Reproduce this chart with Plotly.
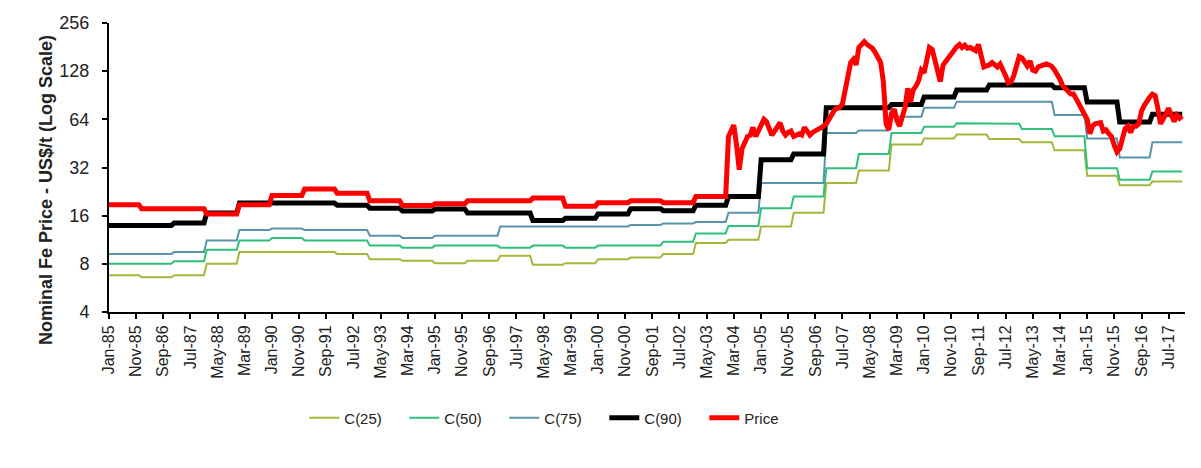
import math
import pandas as pd
import plotly.graph_objects as go

# ---------------- data ----------------
years = list(range(1985, 2018))

c25 = [6.8, 6.6, 6.8, 8.0, 9.5, 9.5, 9.5, 9.2, 8.55, 8.35, 8.07, 8.35, 9.0, 7.9, 8.07,
       8.55, 8.75, 9.2, 10.8, 11.3, 13.7, 16.7, 25.6, 30.6, 44.5, 48.5, 51.5, 48.2,
       46.0, 41.0, 28.4, 24.8, 26.2]
c50 = [8.0, 8.0, 8.3, 9.8, 11.2, 11.6, 11.2, 11.2, 10.4, 10.1, 10.4, 10.4, 10.1, 10.4,
       10.1, 10.4, 10.4, 11.0, 12.4, 13.8, 17.8, 21.1, 31.7, 38.8, 52.6, 57.5, 60.5,
       60.0, 55.6, 50.1, 31.7, 26.8, 30.2]
c75 = [9.23, 9.23, 9.5, 11.2, 13.0, 13.3, 13.0, 13.0, 12.0, 11.6, 12.0, 12.0, 13.7,
       13.7, 13.7, 13.7, 14.0, 14.3, 14.6, 16.7, 25.6, 25.6, 52.6, 54.5, 66.5, 75.5,
       82.5, 82.5, 82.5, 68.0, 48.5, 37.0, 46.0]
c90 = [13.9, 13.9, 14.4, 16.6, 19.2, 19.2, 19.2, 18.6, 17.8, 17.1, 17.6, 16.6, 16.6,
       14.9, 15.4, 16.4, 17.7, 17.2, 18.6, 21.1, 35.8, 38.8, 75.5, 75.5, 79.2, 88.4,
       97.5, 105.0, 105.0, 101.0, 82.0, 61.6, 68.8]

# annual (contract) price 1985-2003
price_years = list(range(1985, 2004))
price_annual = [18.7, 17.7, 17.7, 16.4, 18.7, 21.4, 23.5, 22.1, 19.8, 18.5, 19.0, 19.8,
                19.8, 20.6, 18.3, 19.3, 19.8, 19.3, 21.1]

# monthly price Jan-2004 .. Dec-2017
price_2004 = [50, 55, 59, 44, 31, 42, 46, 50, 51, 57, 50, 54]
price_2005 = [58, 64, 62, 55, 51, 54, 58, 61, 54, 51, 53, 54]
price_2006 = [50, 51, 52, 51, 57, 54, 51, 53, 54, 55, 56, 58]
price_2007 = [60, 65, 70, 73, 75, 76, 80, 100, 125, 145, 152, 140]
price_2008 = [180, 188, 196, 188, 182, 178, 168, 158, 145, 110, 60, 55]
price_2009 = [70, 74, 63, 58, 65, 76, 100, 82, 98, 103, 112, 130]
price_2010 = [125, 150, 180, 175, 150, 128, 110, 140, 148, 155, 165, 175]
price_2011 = [182, 188, 180, 186, 178, 180, 176, 172, 188, 165, 136, 138]
price_2012 = [140, 145, 140, 136, 142, 132, 120, 108, 110, 120, 136, 158]
price_2013 = [155, 145, 138, 148, 130, 128, 136, 138, 140, 142, 140, 137]
price_2014 = [130, 122, 114, 104, 100, 96, 92, 92, 84, 80, 74, 69]
price_2015 = [64, 52, 58, 60, 60, 61, 54, 55, 52, 50, 44, 40]
price_2016 = [42, 50, 56, 58, 53, 58, 58, 60, 72, 78, 84, 88]
price_2017 = [92, 90, 76, 60, 64, 70, 75, 68, 62, 68, 65, 67]

tick_labels = ["Jan-85", "Nov-85", "Sep-86", "Jul-87", "May-88", "Mar-89", "Jan-90",
               "Nov-90", "Sep-91", "Jul-92", "May-93", "Mar-94", "Jan-95", "Nov-95",
               "Sep-96", "Jul-97", "May-98", "Mar-99", "Jan-00", "Nov-00", "Sep-01",
               "Jul-02", "May-03", "Mar-04", "Jan-05", "Nov-05", "Sep-06", "Jul-07",
               "May-08", "Mar-09", "Jan-10", "Nov-10", "Sep-11", "Jul-12", "May-13",
               "Mar-14", "Jan-15", "Nov-15", "Sep-16", "Jul-17"]
y_ticks = [4, 8, 16, 32, 64, 128, 256]

# ---------------- build monthly series ----------------
months = pd.date_range(f"{years[0]}-01-01", f"{years[-1]}-12-01", freq="MS")


def monthly(annual):
    return [v for v in annual for _ in range(12)]


price_monthly = (price_2004 + price_2005 + price_2006 + price_2007 + price_2008 +
                 price_2009 + price_2010 + price_2011 + price_2012 + price_2013 +
                 price_2014 + price_2015 + price_2016 + price_2017)
price = monthly(price_annual) + price_monthly

tick_vals = pd.to_datetime(tick_labels, format="%b-%y")

FONT = "Liberation Sans, Arial, sans-serif"
TXT = "#222222"

series = [
    ("C(25)", c25, "#A3B73C", 2),
    ("C(50)", c50, "#2FC07A", 2),
    ("C(75)", c75, "#5A94AA", 2),
    ("C(90)", c90, "#000000", 5),
]

fig = go.Figure()
for name, vals, color, width in series:
    fig.add_trace(go.Scatter(x=months, y=monthly(vals), mode="lines", name=name,
                             line=dict(color=color, width=width)))
fig.add_trace(go.Scatter(x=months, y=price, mode="lines", name="Price",
                         line=dict(color="#FF0000", width=5)))

# page body has an 8px margin, so the figure is drawn 8px in from the window edge
W, H = 1193, 460
ML, MT, MR, MB = 101, 15, 16, 156
plot_h = H - MT - MB

fig.update_layout(
    width=W, height=H,
    margin=dict(l=ML, r=MR, t=MT, b=MB, autoexpand=False),
    paper_bgcolor="white", plot_bgcolor="white",
    font=dict(family=FONT, color=TXT),
    showlegend=True,
    legend=dict(orientation="h", x=0.1815, xanchor="left", y=-0.367, yanchor="middle",
                font=dict(size=15, family=FONT, color=TXT),
                entrywidth=55, entrywidthmode="pixels",
                bgcolor="rgba(0,0,0,0)"),
    annotations=[dict(
        text="<b>Nominal Fe Price - US$/t (Log Scale)</b>",
        textangle=-90, xref="paper", yref="paper",
        x=-(ML - 38) / (W - ML - MR), xanchor="center",
        y=(plot_h + MT - 182) / plot_h, yanchor="middle",
        showarrow=False, font=dict(size=18, family=FONT, color=TXT),
    )],
)

fig.update_xaxes(
    type="date", automargin=False,
    range=[months[0], pd.Timestamp(f"{years[-1] + 1}-01-01")],
    tickvals=tick_vals, ticktext=tick_labels, tickangle=-90,
    tickfont=dict(size=16, family=FONT, color=TXT),
    ticks="outside", ticklen=5, tickwidth=1.5, tickcolor="black",
    showline=True, linecolor="black", linewidth=2,
    showgrid=False, zeroline=False,
)
fig.update_yaxes(
    type="log", automargin=False,
    range=[math.log10(y_ticks[0]), math.log10(y_ticks[-1])],
    tickvals=y_ticks, ticktext=[str(v) for v in y_ticks],
    tickfont=dict(size=18, family=FONT, color=TXT),
    ticks="outside", ticklen=5, tickwidth=1.5, tickcolor="black",
    ticklabelstandoff=9,
    showline=True, linecolor="black", linewidth=2,
    showgrid=False, zeroline=False,
)

fig.write_html("out.html")
